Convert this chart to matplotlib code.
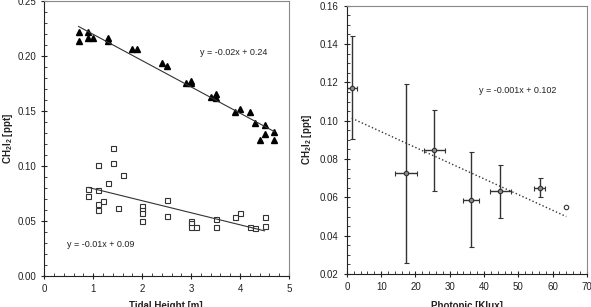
import numpy as np
import matplotlib
matplotlib.use("Agg")
import matplotlib.pyplot as plt
from matplotlib.ticker import MultipleLocator

plt.rcParams['font.family'] = ['Liberation Sans', 'DejaVu Sans']
plt.rcParams['mathtext.default'] = 'regular'

# Tidal height vs CH2I2 - triangles (upper group)
tri_x = [0.7, 0.7, 0.9, 0.9, 1.0, 1.3, 1.3, 1.8, 1.9, 2.4, 2.5, 2.9, 3.0, 3.0,
         3.4, 3.5, 3.5, 3.9, 4.0, 4.2, 4.3, 4.5, 4.5, 4.4, 4.7, 4.7]
tri_y = [0.2215, 0.2133, 0.2215, 0.216, 0.216, 0.216, 0.214, 0.2064, 0.2064, 0.1933,
         0.191, 0.175, 0.177, 0.175, 0.1624, 0.162, 0.165, 0.149, 0.152, 0.149,
         0.139, 0.137, 0.129, 0.124, 0.131, 0.124]

# squares (lower group)
sq_x = [0.9, 0.9, 1.1, 1.1, 1.1, 1.1, 1.2, 1.3, 1.4, 1.4, 1.5, 1.6, 2.0, 2.0, 2.0,
        2.0, 2.5, 2.5, 3.0, 3.0, 3.0, 3.1, 3.5, 3.5, 3.9, 4.0, 4.2, 4.3, 4.5, 4.5]
sq_y = [0.0791, 0.0727, 0.1012, 0.078, 0.0658, 0.0597, 0.0682, 0.0848, 0.1027, 0.1167,
        0.0618, 0.0915, 0.0639, 0.060, 0.057, 0.050, 0.0694, 0.0545, 0.0503, 0.048,
        0.0448, 0.0448, 0.0518, 0.0445, 0.0539, 0.057, 0.0448, 0.0436, 0.0539, 0.0457]

# Photopic vs CH2I2
ph_x = [1.4, 17.2, 25.5, 36.1, 44.8, 56.2, 64.0]
ph_y = [0.1172, 0.0727, 0.0845, 0.0586, 0.0631, 0.0650, 0.0549]
ph_xerr = [1.5, 3.3, 3.0, 2.3, 3.2, 1.5, 0]
ph_yerr_lo = [0.0268, 0.0468, 0.0211, 0.0244, 0.0141, 0.0048, 0]
ph_yerr_hi = [0.0268, 0.0466, 0.0209, 0.0249, 0.0139, 0.0049, 0]

fig = plt.figure(figsize=(5.91, 3.07), dpi=100)
ax1 = fig.add_axes([0.075, 0.101, 0.414, 0.896])
ax2 = fig.add_axes([0.587, 0.1075, 0.406, 0.874])

def style(ax):
    for s in ['top', 'right']:
        ax.spines[s].set_color('#888888')
    for s in ['left', 'bottom']:
        ax.spines[s].set_color('#222222')
    for s in ax.spines.values():
        s.set_linewidth(0.8)
    ax.tick_params(which='major', direction='inout', length=4, width=0.8,
                   labelsize=7, colors='#222222', pad=4)
    ax.tick_params(which='minor', direction='in', length=2.5, width=0.6,
                   colors='#222222')
    ax.tick_params(top=False, right=False, which='both')

# left panel
ax1.plot(tri_x, tri_y, '^', color='black', ms=4, mec='black')
ax1.plot(sq_x, sq_y, 's', mfc='white', mec='#333333', ms=3.6, mew=0.8)
k1, b1 = np.polyfit(tri_x, tri_y, 1)
xs = np.array([min(tri_x), max(tri_x)])
ax1.plot(xs, k1 * xs + b1, color='#333333', lw=0.8)
k2, b2 = np.polyfit(sq_x, sq_y, 1)
xs = np.array([min(sq_x), max(sq_x)])
ax1.plot(xs, k2 * xs + b2, color='#333333', lw=0.8)
ax1.text(3.18, 0.203, 'y = -0.02x + 0.24', fontsize=6.5, va='center', color='#222222')
ax1.text(0.46, 0.029, 'y = -0.01x + 0.09', fontsize=6.5, va='center', color='#222222')
ax1.set_xlim(0, 5)
ax1.set_ylim(0, 0.25)
ax1.xaxis.set_major_locator(MultipleLocator(1))
ax1.xaxis.set_minor_locator(MultipleLocator(0.2))
ax1.yaxis.set_major_locator(MultipleLocator(0.05))
ax1.yaxis.set_minor_locator(MultipleLocator(0.01))
ax1.yaxis.set_major_formatter(lambda v, p: f'{v:.2f}')
style(ax1)

# right panel
ax2.errorbar(ph_x[:-1], ph_y[:-1], xerr=ph_xerr[:-1],
             yerr=[ph_yerr_lo[:-1], ph_yerr_hi[:-1]], fmt='o', ms=3.2,
             mfc='#8a8a8a', mec='#333333', mew=0.8, ecolor='#333333',
             elinewidth=1.0, capsize=1.8, capthick=0.9)
ax2.plot(ph_x[-1:], ph_y[-1:], 'o', ms=3.2, mfc='white', mec='#333333', mew=0.8)
k3, b3 = np.polyfit(ph_x, ph_y, 1)
xs = np.array([min(ph_x), max(ph_x)])
ax2.plot(xs, k3 * xs + b3, ':', color='#333333', lw=1.0)
ax2.text(38.5, 0.1156, 'y = -0.001x + 0.102', fontsize=6.5, va='center', color='#222222')
ax2.set_xlim(0, 70)
ax2.set_ylim(0.02, 0.16)
ax2.xaxis.set_major_locator(MultipleLocator(10))
ax2.xaxis.set_minor_locator(MultipleLocator(2))
ax2.yaxis.set_major_locator(MultipleLocator(0.02))
ax2.yaxis.set_minor_locator(MultipleLocator(0.005))
ax2.yaxis.set_major_formatter(lambda v, p: f'{v:.2f}')
style(ax2)

# axis labels
fig.text(0.281, 0.004, 'Tidal Height [m]', fontsize=7, fontweight='bold',
         ha='center', va='center', color='#222222')
fig.text(0.790, 0.004, 'Photopic [Klux]', fontsize=7, fontweight='bold',
         ha='center', va='center', color='#222222')
fig.text(0.013, 0.55, 'CH$_2$I$_2$ [ppt]', fontsize=7, fontweight='bold',
         rotation=90, ha='center', va='center', color='#222222')
fig.text(0.520, 0.545, 'CH$_2$I$_2$ [ppt]', fontsize=7, fontweight='bold',
         rotation=90, ha='center', va='center', color='#222222')

fig.savefig('out.png', dpi=100)
